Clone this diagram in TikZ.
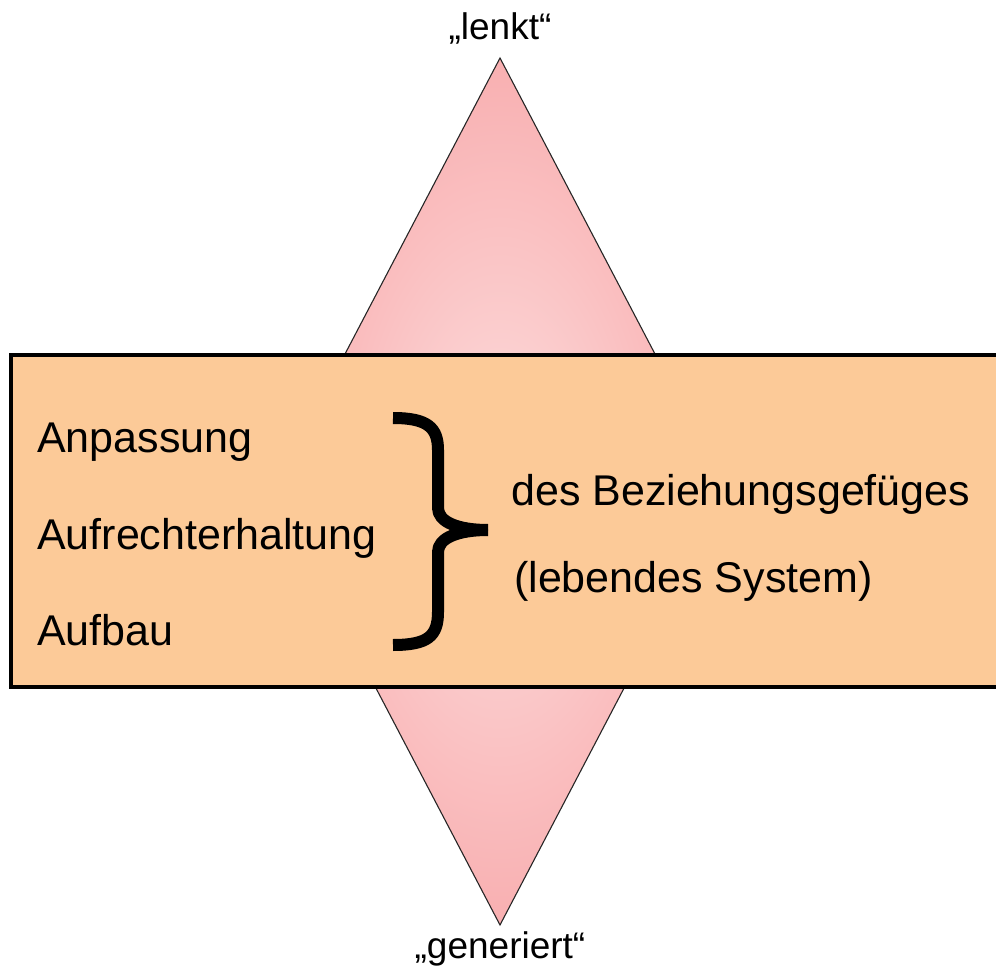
\documentclass[tikz,border=0pt]{standalone}
\usepackage{fontspec}
\setmainfont{Liberation Sans}
\definecolor{boxfill}{HTML}{FCCA98}
\definecolor{pinkin}{HTML}{FCDEDE}
\definecolor{pinkout}{HTML}{F8A6A8}
\pgfdeclareradialshading{diamondglow}{\pgfpoint{0bp}{0bp}}{%
  color(0bp)=(pinkin); color(30bp)=(pinkout); color(50bp)=(pinkout)}
\tikzset{
  label43/.style={anchor=base west, inner sep=0pt, font=\fontsize{43}{50}\selectfont},
  label37/.style={anchor=base, inner sep=0pt, font=\fontsize{37}{44}\selectfont},
  bracestroke/.style={line width=12pt, line cap=butt, line join=round},
}
\begin{document}
\begin{tikzpicture}[x=1pt, y=-1pt]
  \useasboundingbox (0,0) rectangle (996,976);
  \clip (0,0) rectangle (996,976);

  % tall shaded rhombus behind the band
  \path[shading=diamondglow, draw=black!85, line width=1.1pt]
    (500,58) -- (727,491.5) -- (500,925) -- (273,491.5) -- cycle;

  % the band, running off the right edge
  \fill[boxfill] (11,355) rectangle (1000,687);
  \draw[line width=3.5pt, line join=miter] (1000,355) -- (11,355) -- (11,687) -- (1000,687);

  % labels at the tips
  \node[label37] (lenkt) at (500,40) {„lenkt“};
  \node[label37] (gen) at (500,958) {„generiert“};

  % left column
  \node[label43] (anp) at (37,452) {Anpassung};
  \node[label43] (aufr) at (37,549) {Aufrechterhaltung};
  \node[label43] (aufb) at (37,645) {Aufbau};

  % curly brace
  \draw[bracestroke]
    (393,418) .. controls (428,418) and (438,428) .. (438,450)
    -- (438,508) .. controls (438,522) and (458,530) .. (488,530);
  \draw[bracestroke]
    (488,530) .. controls (458,530) and (438,538) .. (438,552)
    -- (438,612) .. controls (438,636) and (428,645) .. (393,645);

  % right column
  \node[label43] (bez) at (511,505) {des Beziehungsgefüges};
  \node[label43] (sys) at (514,592) {(lebendes System)};
\end{tikzpicture}
\end{document}
